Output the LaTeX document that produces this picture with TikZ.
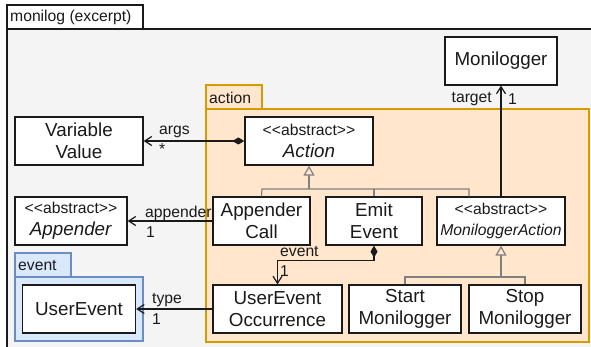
\documentclass[tikz,border=0pt]{standalone}
\usepackage{fontspec}
\setmainfont{Liberation Sans}
\usetikzlibrary{arrows.meta}
\definecolor{framebg}{HTML}{F4F4F4}
\definecolor{actfill}{HTML}{FFE6CC}
\definecolor{actline}{HTML}{D79B00}
\definecolor{evfill}{HTML}{DAE8FC}
\definecolor{evline}{HTML}{6C8EBF}
\definecolor{genline}{HTML}{808080}
\definecolor{ink}{HTML}{1A1A1A}
\tikzset{
  cls/.style={draw=ink, fill=white, line width=1.3pt, inner sep=0pt, align=center,
    minimum height=48pt, text=ink, font=\fontsize{18.8}{22}\selectfont},
  lbl/.style={inner sep=0pt, text=ink, font=\fontsize{15.7}{18}\selectfont},
  tabtext/.style={inner sep=0pt, anchor=west, text=ink, font=\fontsize{15.7}{18}\selectfont},
  assoc/.style={draw=ink, line width=1.3pt},
  openhead/.style={-{Straight Barb[length=7pt,width=9pt,line width=1.2pt]}},
  diamhead/.style={{Diamond[length=12pt,width=7pt]}-{Straight Barb[length=7pt,width=9pt,line width=1.2pt]}},
  gen/.style={draw=genline, line width=1.2pt},
  genhead/.style={-{Triangle[open,length=10pt,width=11pt,line width=1.2pt]}},
}
\newcommand{\stereo}{{\fontsize{15.7}{18}\selectfont <{}<abstract>{}>}}
\begin{document}
\begin{tikzpicture}[x=1pt,y=-1pt]
\useasboundingbox (0,0) rectangle (591,347);
\clip (0,0) rectangle (591,347);
% outer frame
\draw[fill=framebg, line width=1.2pt, draw=ink] (7,29) rectangle (600,360);
\draw[fill=white, line width=1.2pt, draw=ink] (7,5) rectangle (143,29);
\node[tabtext] (tmon) at (10,17.5) {monilog (excerpt)};
% action package
\draw[fill=actfill, draw=actline, line width=1.2pt] (206,85) rectangle (262,109);
\draw[fill=actfill, draw=actline, line width=1.2pt] (206,109) rectangle (589,342);
\node[tabtext] (tact) at (209,97.5) {action};
% event package
\draw[fill=evfill, draw=evline, line width=1.2pt] (15,253) rectangle (71,277);
\draw[fill=evfill, draw=evline, line width=1.2pt] (15,277) rectangle (143,341);
\node[tabtext] (tev) at (18,265.5) {event};
% classes
\node[cls, minimum width=112pt] (monilogger) at (501,61) {Monilogger};
\node[cls, minimum width=128pt] (vv) at (79,141) {Variable\\Value};
\node[cls, minimum width=128pt] (action) at (309,141) {\stereo\\\textit{Action}};
\node[cls, minimum width=112pt] (appender) at (71,221) {\stereo\\\textit{Appender}};
\node[cls, minimum width=97pt] (apcall) at (261.5,221) {Appender\\Call};
\node[cls, minimum width=96pt] (emit) at (374,221) {Emit\\Event};
\node[cls, minimum width=128pt, font=\fontsize{15.7}{21}\selectfont] (mlaction) at (501,221) {<{}<abstract>{}>\\\textit{MoniloggerAction}};
\node[cls, minimum width=113pt] (userevent) at (79,309) {UserEvent};
\node[cls, minimum width=129pt] (ueo) at (277.5,309) {UserEvent\\Occurrence};
\node[cls, minimum width=112pt] (start) at (405,309) {Start\\Monilogger};
\node[cls, minimum width=112pt] (stop) at (525,309) {Stop\\Monilogger};
% generalizations
\coordinate (g1) at (309,189);
\coordinate (gl) at (262,189);
\coordinate (gr) at (469,189);
\draw[gen, genhead] (g1) -- (action.south);
\draw[gen] (apcall.north) -- (gl) -- (gr) -- (gr |- mlaction.north);
\draw[gen] (emit.north) -- (emit.north |- gl);
\coordinate (g2) at (501,277);
\draw[gen, genhead] (g2) -- (mlaction.south);
\draw[gen] (start.north) |- (g2) -| (stop.north);
% associations
\draw[assoc, diamhead] (action.west) -- (vv.east);
\node[lbl, anchor=west] (largs) at (159,132) {args};
\node[lbl, anchor=west] (lstar) at (159,149) {*};
\draw[assoc, openhead] (mlaction.north) -- (monilogger.south);
\node[lbl, anchor=east] (ltarget) at (492,99) {target};
\node[lbl, anchor=west] (lt1) at (508,99) {1};
\draw[assoc, openhead] (apcall.west) -- (appender.east);
\node[lbl, anchor=west] (lapp) at (145,213) {appender};
\node[lbl, anchor=west] (lapp1) at (146,232) {1};
\draw[assoc, diamhead] (emit.south) -- ++(0,15) -| (ueo.north);
\node[lbl, anchor=west] (lev) at (280,252) {event};
\node[lbl, anchor=west] (lev1) at (280,271) {1};
\draw[assoc, openhead] (ueo.west) -- (userevent.east);
\node[lbl, anchor=west] (ltype) at (152,300) {type};
\node[lbl, anchor=west] (ltype1) at (152,319) {1};
\end{tikzpicture}
\end{document}
